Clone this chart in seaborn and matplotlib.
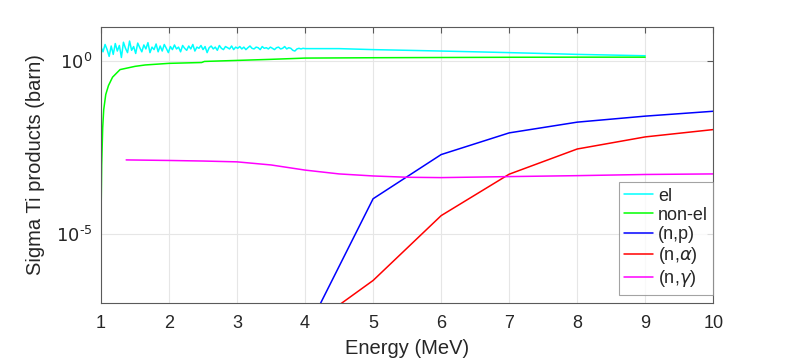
import numpy as np
import pandas as pd
import matplotlib
matplotlib.use("Agg")
import matplotlib.pyplot as plt
import seaborn as sns

# ---- data ----
# elastic: noisy part 1-4 MeV, then smooth
el_noisy = [2.6, 1.9, 3.1, 2.2, 1.4, 2.8, 1.6, 3.3, 2.0, 2.9, 1.3, 3.6, 2.4, 1.8, 3.9, 2.1, 2.7,
            1.7, 3.4, 2.5, 1.9, 3.0, 2.3, 3.5, 1.8, 2.6, 2.2, 3.2, 1.9, 2.8, 2.0, 3.1, 2.4, 1.8,
            2.7, 2.2, 3.0, 2.3, 2.6, 1.9, 2.9, 2.4, 2.1, 2.8, 2.3, 3.1, 2.0, 2.6, 2.4, 2.9, 2.2,
            2.7, 1.8, 2.5, 2.8, 2.3, 2.6, 2.1, 2.9, 2.4, 2.2, 2.7, 2.5, 2.3, 2.8, 2.2, 2.6,
            2.4, 2.7, 2.3, 2.6, 2.2, 2.5, 2.8, 2.4, 2.3, 2.6, 2.5, 2.2, 2.7, 2.4, 2.5, 2.3, 2.6,
            2.4, 2.2, 2.5, 2.6, 2.3, 2.4, 2.7, 2.3, 2.5, 2.4, 2.1, 2.0, 2.3, 2.4, 2.3, 2.4]
el_noisy_E = np.linspace(1.0, 3.97, len(el_noisy))
el_smooth_E = [4.0, 4.5, 5.0, 5.5, 6.0, 6.5, 7.0, 7.5, 8.0, 8.5, 9.0]
el_smooth = [2.35, 2.35, 2.2, 2.1, 2.0, 1.9, 1.8, 1.7, 1.6, 1.53, 1.46]

nonel_E = [1.0, 1.01, 1.025, 1.04, 1.07, 1.11, 1.17, 1.28, 1.5, 1.65, 2.0, 2.48, 2.52,
           3.0, 3.5, 4.0, 5.0, 6.0, 7.0, 8.0, 9.0]
nonel = [2.3e-5, 1e-3, 0.012, 0.04, 0.11, 0.2, 0.35, 0.58, 0.72, 0.79, 0.88, 0.93, 1.0,
         1.07, 1.15, 1.25, 1.28, 1.3, 1.32, 1.33, 1.33]

np_E = [4, 5, 6, 7, 8, 9, 10]
np_xs = [1.26e-8, 1.05e-4, 2.0e-3, 8.5e-3, 0.0174, 0.026, 0.036]

na_E = [4, 5, 6, 7, 8, 9, 10]
na_xs = [1.7e-8, 4.5e-7, 3.4e-5, 5.4e-4, 2.9e-3, 6.5e-3, 0.0106]

ng_E = [1.37, 1.5, 2.0, 2.5, 3.0, 3.5, 4.0, 4.5, 5.0, 5.5, 6.0, 7.0, 8.0, 9.0, 10.0]
ng_xs = [1.40e-3, 1.39e-3, 1.35e-3, 1.3e-3, 1.23e-3, 1.0e-3, 7.1e-4, 5.5e-4, 4.8e-4,
         4.4e-4, 4.3e-4, 4.6e-4, 4.9e-4, 5.3e-4, 5.5e-4]

labels = ['el', 'non-el', '(n,p)', r'(n,$\alpha$)', r'(n,$\gamma$)']
colors = ['#00ffff', '#00ff00', '#0000ff', '#ff0000', '#ff00ff']

frames = [
    pd.DataFrame({'E': list(el_noisy_E) + el_smooth_E, 'xs': el_noisy + el_smooth, 'r': labels[0]}),
    pd.DataFrame({'E': nonel_E, 'xs': nonel, 'r': labels[1]}),
    pd.DataFrame({'E': np_E, 'xs': np_xs, 'r': labels[2]}),
    pd.DataFrame({'E': na_E, 'xs': na_xs, 'r': labels[3]}),
    pd.DataFrame({'E': ng_E, 'xs': ng_xs, 'r': labels[4]}),
]
df = pd.concat(frames, ignore_index=True)

sns.set_style("white")
plt.rcParams['font.family'] = ['Liberation Sans', 'DejaVu Sans']
plt.rcParams['mathtext.fontset'] = 'dejavusans'

fig, ax = plt.subplots(figsize=(7.89, 3.59), dpi=100)
fig.subplots_adjust(left=0.128, right=0.904, bottom=0.156, top=0.925)

sns.lineplot(data=df, x='E', y='xs', hue='r', hue_order=labels, palette=colors,
             estimator=None, sort=False, linewidth=1.1, ax=ax)

ax.set_yscale('log')
ax.set_xlim(1, 10)
ax.set_ylim(1e-7, 1e1)
ax.set_xticks(range(1, 11))
ax.set_yticks([1e-5, 1e0])
ax.set_yticklabels([r'$10^{\text{-}5}$', r'$10^{0}$'])
ax.minorticks_off()
ax.grid(True, color='#e6e6e6', linewidth=0.8)
ax.set_axisbelow(True)
for s in ax.spines.values():
    s.set_color('#5a5a5a')
    s.set_linewidth(0.8)
ax.tick_params(direction='in', length=4, width=0.8, color='#5a5a5a',
               top=True, right=True, labelsize=13, labelcolor='#262626')
ax.tick_params(axis='x', pad=9)
ax.tick_params(axis='y', pad=6)
ax.set_xlabel('Energy (MeV)', fontsize=14.5, color='#262626', labelpad=5)
ax.set_ylabel('Sigma Ti products (barn)', fontsize=14.5, color='#262626', labelpad=8)

leg = ax.legend(loc='lower right', bbox_to_anchor=(1.0, 0.03), fontsize=13,
                frameon=True, fancybox=False, borderaxespad=0.0, handlelength=1.6,
                handletextpad=0.25, labelspacing=0.12, borderpad=0.3)
leg.get_frame().set_edgecolor('#8c8c8c')
leg.get_frame().set_linewidth(0.8)

fig.savefig('out.png', dpi=100)
